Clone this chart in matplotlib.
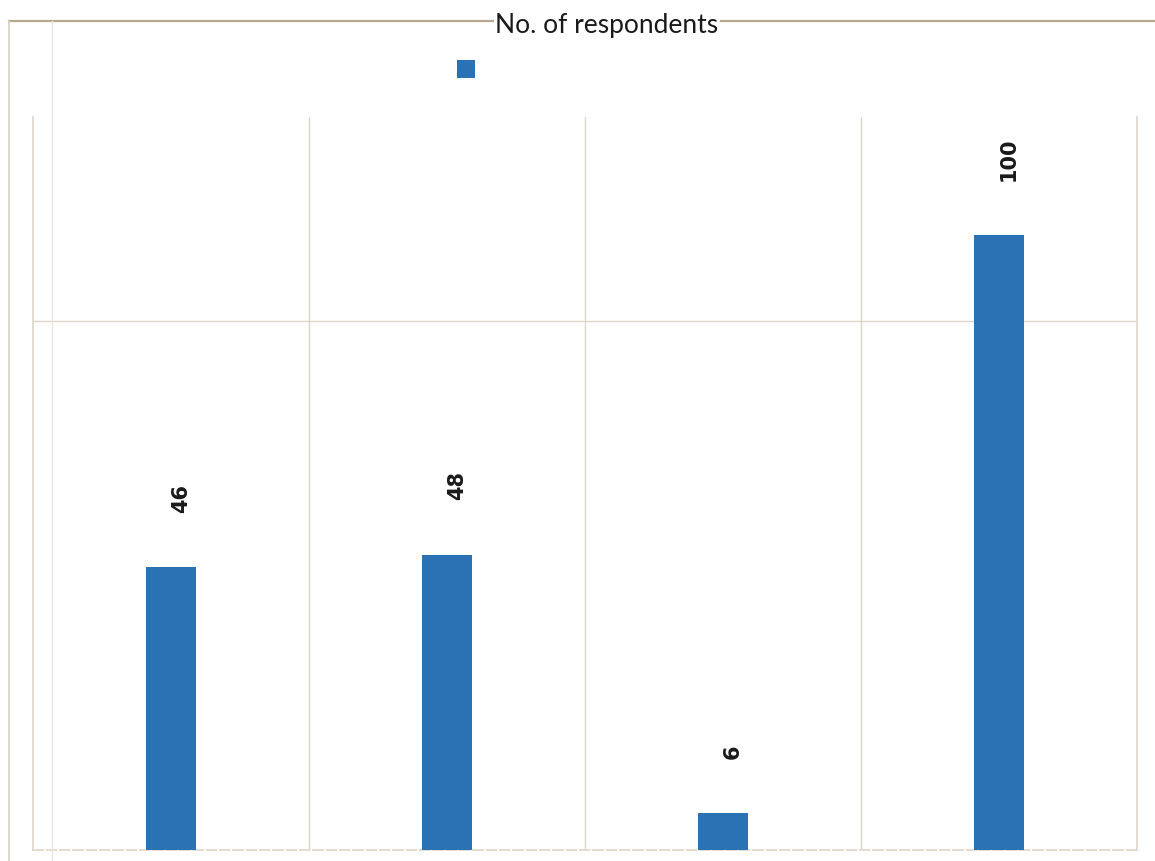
import matplotlib.pyplot as plt
from matplotlib.lines import Line2D
from matplotlib.patches import Patch

categories = ["", "", "", ""]
respondents = [46, 48, 6, 100]
series_name = "No. of respondents"

bar_color = "#2b72b4"
grid_color = "#ddd5c8"

fig = plt.figure(figsize=(11.55, 8.62), dpi=100)
fig.patch.set_facecolor("white")

W, H = 1155, 862
left, right, top, bottom = 33, 1137, 118, 851
ax = fig.add_axes([left / W, 1 - bottom / H, (right - left) / W, (bottom - top) / H])

x = list(range(len(respondents)))
ax.bar(x, respondents, width=0.18, color=bar_color, zorder=3)

ax.set_xlim(-0.5, len(respondents) - 0.5)
ax.set_ylim(0, 119.2)

# category boundaries and one horizontal gridline
ax.set_xticks([i + 0.5 for i in range(len(respondents) - 1)])
ax.set_xticklabels([])
ax.set_yticks([86])
ax.set_yticklabels([])
ax.tick_params(length=0)
ax.grid(True, color=grid_color, linewidth=1.0, zorder=0)

for s in ["left", "right"]:
    ax.spines[s].set_color(grid_color)
    ax.spines[s].set_linewidth(1.2)
ax.spines["top"].set_visible(False)
ax.spines["bottom"].set_color(grid_color)
ax.spines["bottom"].set_linestyle((0, (6, 2)))
ax.spines["bottom"].set_linewidth(1.2)

for xi, v in zip(x, respondents):
    ax.annotate(str(v), xy=(xi, v), xytext=(7, 40), textcoords="offset points",
                rotation=90, ha="center", va="bottom",
                fontsize=15, fontweight="semibold", color="#1a1a1a")

# outer chart frame
fig.add_artist(Line2D([9 / W, 1.0], [1 - 22 / H, 1 - 22 / H], color="#b5a98f", linewidth=1.6))
fig.add_artist(Line2D([9 / W, 9 / W], [0, 1 - 22 / H], color="#d8d0c0", linewidth=1.2))
fig.add_artist(Line2D([52 / W, 52 / W], [0, 1 - 22 / H], color="#ece7de", linewidth=1.0))

fig.text(607 / W, 1 - 25 / H, series_name, ha="center", va="center",
         fontsize=19, color="#1a1a1a",
         family=["Lato", "DejaVu Sans"],
         bbox=dict(facecolor="white", edgecolor="none", pad=1))

handle = Patch(facecolor=bar_color, edgecolor="none")
fig.legend([handle], [""], loc="center", bbox_to_anchor=(466 / W, 1 - 70 / H),
           frameon=False, handlelength=1.3, handleheight=1.7, handletextpad=0)

fig.savefig("out.png", dpi=100, facecolor="white")
